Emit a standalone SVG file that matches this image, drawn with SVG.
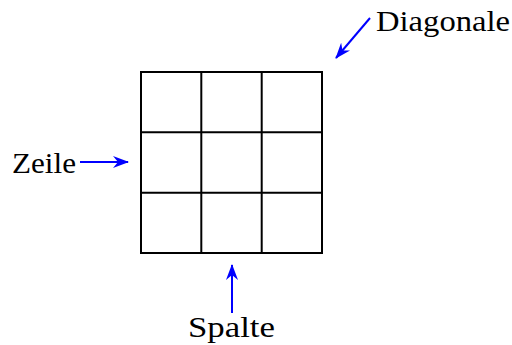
<svg xmlns="http://www.w3.org/2000/svg" width="512" height="345" viewBox="0 0 512 345">
<style>
.grid{stroke:#000;stroke-width:2;fill:none;stroke-linecap:square}
.arr{stroke:#0000ff;stroke-width:2;fill:none}
.lbl{font-family:"Liberation Serif","Times New Roman",serif;font-size:29px;fill:#000}
</style>
<defs>
<marker id="ah" viewBox="0 0 16 12" refX="15" refY="6" markerWidth="16" markerHeight="12" orient="auto" markerUnits="userSpaceOnUse">
<path d="M0,0 L16,6 L0,12 L5,6 Z" fill="#0000ff"/>
</marker>
</defs>
<rect width="512" height="345" fill="#fff"/>
<g id="grid" class="grid">
<rect x="141" y="72" width="181" height="181"/>
<line x1="201.3" y1="72" x2="201.3" y2="253"/>
<line x1="261.7" y1="72" x2="261.7" y2="253"/>
<line x1="141" y1="132.3" x2="322" y2="132.3"/>
<line x1="141" y1="192.7" x2="322" y2="192.7"/>
</g>
<g id="connectors">
<line class="arr" x1="370" y1="18" x2="336" y2="58" marker-end="url(#ah)"/>
<line class="arr" x1="80" y1="162" x2="128" y2="162" marker-end="url(#ah)"/>
<line class="arr" x1="232" y1="313" x2="232" y2="265" marker-end="url(#ah)"/>
</g>
<g id="label-diagonale"><text class="lbl" x="376" y="31" textLength="134" lengthAdjust="spacingAndGlyphs">Diagonale</text></g>
<g id="label-zeile"><text class="lbl" x="12" y="173" textLength="64" lengthAdjust="spacingAndGlyphs">Zeile</text></g>
<g id="label-spalte"><text class="lbl" x="188" y="337" textLength="87" lengthAdjust="spacingAndGlyphs">Spalte</text></g>
</svg>
